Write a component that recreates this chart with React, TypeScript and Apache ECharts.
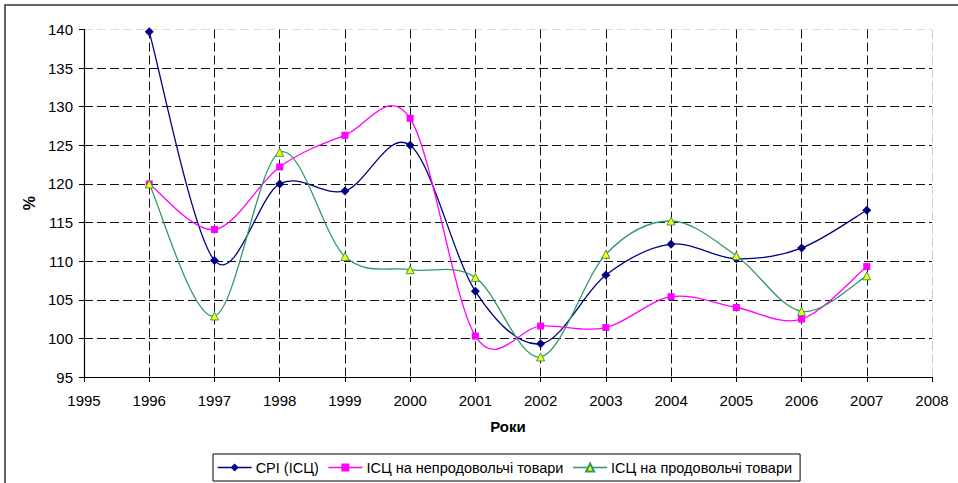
import React, { useEffect, useRef } from "react";
import * as echarts from "echarts";

const years = [1996, 1997, 1998, 1999, 2000, 2001, 2002, 2003, 2004, 2005, 2006, 2007];
const cpi = [139.7, 110.1, 120.0, 119.1, 125.0, 106.1, 99.3, 108.2, 112.2, 110.3, 111.7, 116.6];
const nonFood = [120.0, 114.1, 122.2, 126.3, 128.5, 100.3, 101.6, 101.4, 105.4, 104.0, 102.5, 109.3];
const food = [120.0, 102.9, 124.1, 110.6, 108.9, 107.9, 97.6, 110.9, 115.2, 110.7, 103.5, 108.1];
const seriesNames = ["CPI (ІСЦ)", "ІСЦ на непродовольчі товари", "ІСЦ на продовольчі товари"];
const seriesColors = ["#000080", "#ff00ff", "#339966"];

const FONT = "Liberation Sans, Arial, sans-serif";

export default function App() {
  const ref = useRef<HTMLDivElement>(null);
  useEffect(() => {
    if (!ref.current) return;
    const chart = echarts.init(ref.current, null, { renderer: "svg" });
    const pair = (arr: number[]) => arr.map((v, i) => [years[i], v]);
    const yGridColors = ["#111", "#111", "#111", "#111", "#111", "#111", "#111", "#111", "#111", "#ddd"];
    const xGridColors = ["#111", "#111", "#111", "#111", "#111", "#111", "#111", "#111", "#111", "#111", "#111", "#111", "#111", "#ccc"];

    const curve = (arr: number[], color: string, name: string) => ({
      type: "custom",
      name,
      data: pair(arr),
      z: 2,
      silent: true,
      renderItem: (params: any, api: any) => {
        const i = params.dataIndex;
        const n = arr.length;
        if (i >= n - 1) return null;
        const P = (j: number) => {
          const k = Math.max(0, Math.min(n - 1, j));
          return api.coord([years[k], arr[k]]);
        };
        const p0 = P(i - 1);
        const p1 = P(i);
        const p2 = P(i + 1);
        const p3 = P(i + 2);
        return {
          type: "bezierCurve",
          shape: {
            x1: p1[0],
            y1: p1[1],
            x2: p2[0],
            y2: p2[1],
            cpx1: p1[0] + (p2[0] - p0[0]) / 6,
            cpy1: p1[1] + (p2[1] - p0[1]) / 6,
            cpx2: p2[0] - (p3[0] - p1[0]) / 6,
            cpy2: p2[1] - (p3[1] - p1[1]) / 6,
          },
          style: { stroke: color, fill: "none", lineWidth: 1.3 },
        };
      },
    });

    chart.setOption({
      animation: false,
      backgroundColor: "#fff",
      textStyle: { fontFamily: FONT },
      graphic: [
        {
          type: "rect",
          shape: { x: 5, y: 5, width: 1000, height: 1000 },
          style: { fill: "none", stroke: "#333", lineWidth: 1.5 },
          silent: true,
          z: 100,
        },
      ],
      grid: { left: 84, right: 26, top: 29.5, bottom: 106 },
      xAxis: {
        type: "value",
        min: 1995,
        max: 2008,
        interval: 1,
        name: "Роки",
        nameLocation: "middle",
        nameGap: 42,
        nameTextStyle: { fontSize: 15, fontWeight: "bold", color: "#000", fontFamily: FONT },
        axisLine: { lineStyle: { color: "#000", width: 1.2 } },
        axisTick: { show: true, length: 5, lineStyle: { color: "#000" } },
        axisLabel: { color: "#000", fontSize: 15, margin: 16, fontFamily: FONT, formatter: (v: number) => String(v) },
        splitLine: { show: true, lineStyle: { color: xGridColors, type: [9, 4], width: 1 } },
      },
      yAxis: {
        type: "value",
        min: 95,
        max: 140,
        interval: 5,
        name: "%",
        nameLocation: "middle",
        nameGap: 46,
        nameRotate: 90,
        nameTextStyle: { fontSize: 16, fontWeight: "bold", color: "#000", fontFamily: FONT },
        axisLine: { show: true, lineStyle: { color: "#000", width: 1.2 } },
        axisTick: { show: true, length: 5, lineStyle: { color: "#000" } },
        axisLabel: { color: "#000", fontSize: 15, margin: 11, fontFamily: FONT },
        splitLine: { show: true, lineStyle: { color: yGridColors, type: [9, 4], width: 1 } },
      },
      legend: {
        left: 213,
        top: 454,
        padding: [6, 8, 6, 4],
        itemGap: 9,
        itemWidth: 34,
        itemHeight: 10,
        borderColor: "#000",
        borderWidth: 1,
        textStyle: { fontSize: 14.5, color: "#000", fontFamily: FONT, padding: [0, 0, 0, -1] },
        data: seriesNames.map((name, i) => ({
          name,
          lineStyle: { color: seriesColors[i], width: 1.3, opacity: 1 },
        })),
      },
      series: [
        {
          name: seriesNames[0],
          type: "line",
          data: pair(cpi),
          symbol: "diamond",
          symbolSize: 9,
          lineStyle: { color: seriesColors[0], width: 1.3, opacity: 0 },
          itemStyle: { color: seriesColors[0] },
          z: 3,
        },
        {
          name: seriesNames[1],
          type: "line",
          data: pair(nonFood),
          symbol: "rect",
          symbolSize: 7,
          lineStyle: { color: seriesColors[1], width: 1.3, opacity: 0 },
          itemStyle: { color: seriesColors[1] },
          z: 4,
        },
        {
          name: seriesNames[2],
          type: "line",
          data: pair(food),
          symbol: "triangle",
          symbolSize: 8,
          lineStyle: { color: seriesColors[2], width: 1.3, opacity: 0 },
          itemStyle: { color: "#ffff00", borderColor: seriesColors[2], borderWidth: 1 },
          z: 5,
        },
        curve(cpi, seriesColors[0], seriesNames[0]),
        curve(nonFood, seriesColors[1], seriesNames[1]),
        curve(food, seriesColors[2], seriesNames[2]),
      ],
    });
    return () => chart.dispose();
  }, []);
  return (
    <div
      ref={ref}
      style={{ position: "fixed", left: 0, top: 0, width: 958, height: 483 }}
    />
  );
}
